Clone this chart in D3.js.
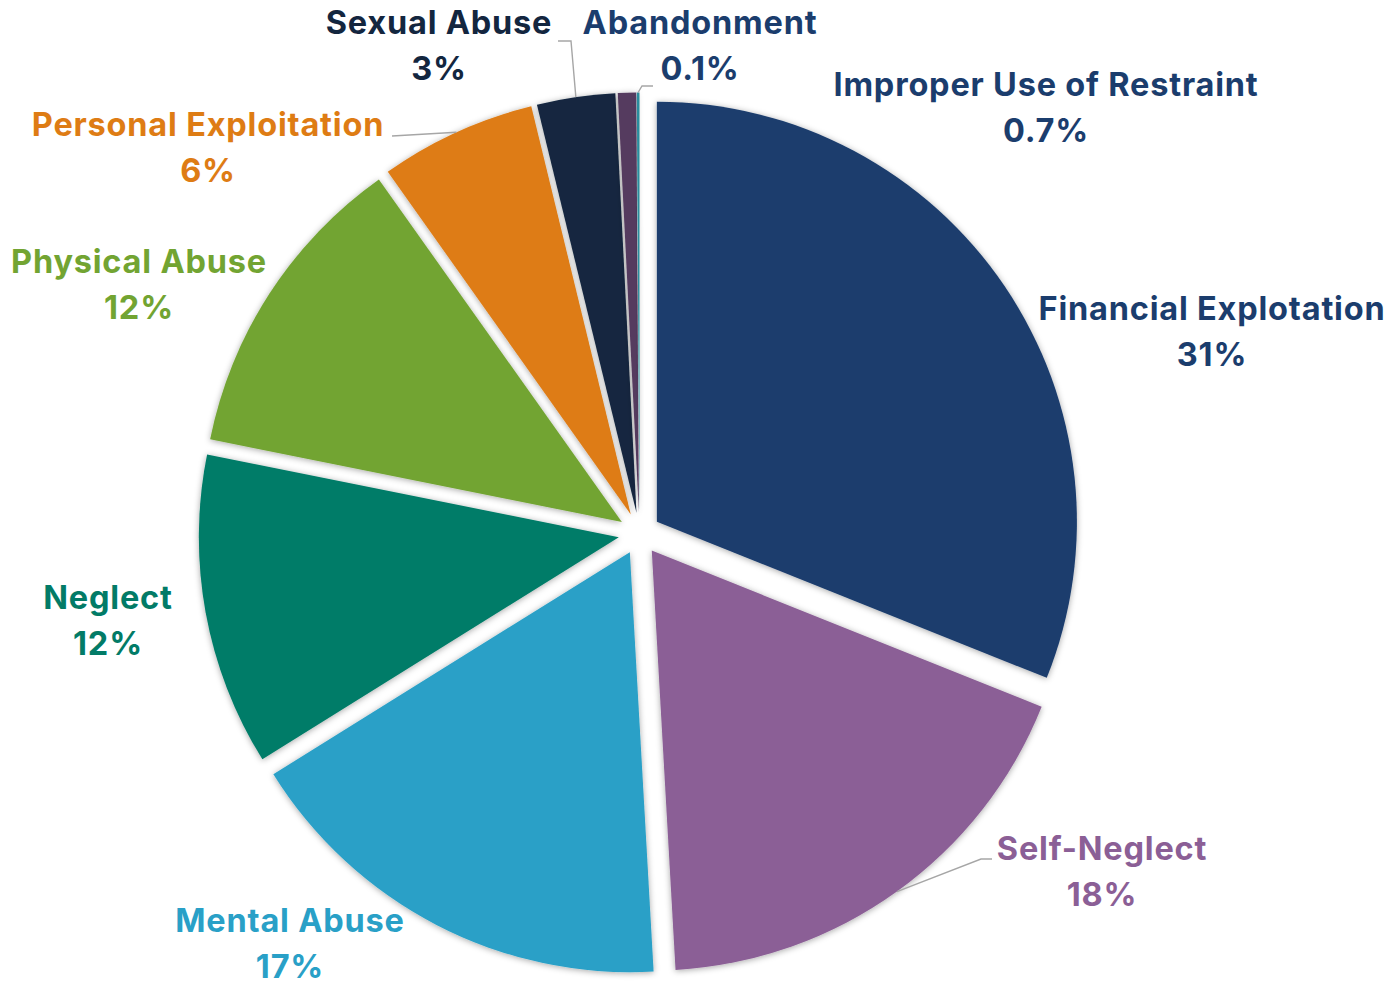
<!DOCTYPE html>
<html>
<head>
<meta charset="utf-8">
<script src="https://cdn.jsdelivr.net/npm/d3@7"></script>
<style>
  html, body { margin: 0; padding: 0; background: #ffffff; }
  svg { display: block; }
  text { font-family: "Inter", "Noto Sans", sans-serif; font-weight: 700; letter-spacing: 0.8px; }
</style>
</head>
<body>
<svg id="chart" width="1396" height="985"></svg>
<script>
// Reported case types and their share of all cases (percent)
const categories = [
  "Financial Explotation", "Self-Neglect", "Mental Abuse", "Neglect",
  "Physical Abuse", "Personal Exploitation", "Sexual Abuse",
  "Improper Use of Restraint", "Abandonment"
];
const shares = [31, 18, 17, 12, 12, 6, 3, 0.7, 0.1];
const shareLabels = ["31%", "18%", "17%", "12%", "12%", "6%", "3%", "0.7%", "0.1%"];

// Slice and label colours
const sliceColors = ["#1b3d6d", "#8b5f96", "#29a0c7", "#027b67", "#72a432", "#de7c14", "#13263f", "#553a5e", "#2b8d9e"];
const labelColors = ["#1b3d6d", "#8b5f96", "#29a0c7", "#027b67", "#72a432", "#de7c14", "#13263f", "#1b3d6d", "#1b3d6d"];

// Label placement: centre x and first-line baseline y
const labelPos = [
  [1212, 320], [1102, 860], [290, 932], [108, 609], [139, 273],
  [208, 136], [439, 34], [1046, 96], [700, 34]
];
// Leader lines: start point beside the label and the knee (null = straight)
const leaders = {
  1: { start: [992, 859], knee: [981, 859] },
  5: { start: [392, 136], knee: null },
  6: { start: [558, 41], knee: [571, 41] },
  8: { start: [653, 86], knee: [642, 86] }
};

const svg = d3.select("#chart");
const cx = 639.5, cy = 533.5, radius = 420, explode = 21;
const fontSize = 32.5, lineGap = 46;

const defs = svg.append("defs");
const f = defs.append("filter").attr("id", "shadow")
  .attr("x", "-20%").attr("y", "-20%").attr("width", "140%").attr("height", "140%");
f.append("feDropShadow").attr("dx", 0).attr("dy", 1).attr("stdDeviation", 3.4)
  .attr("flood-color", "#000").attr("flood-opacity", 0.35);

const data = categories.map((c, i) => ({ name: c, value: shares[i], i }));
const pie = d3.pie().value(d => d.value).sort(null);
const arcs = pie(data);
const arc = d3.arc().innerRadius(0).outerRadius(radius);

const dir = a => [Math.sin(a), -Math.cos(a)];
const mid = d => (d.startAngle + d.endAngle) / 2;

const g = svg.append("g").attr("transform", `translate(${cx},${cy})`);

g.selectAll("path.slice")
  .data(arcs)
  .join("path")
  .attr("class", "slice")
  .attr("filter", "url(#shadow)")
  .attr("fill", d => sliceColors[d.data.i])
  .attr("transform", d => {
    const [ux, uy] = dir(mid(d));
    return `translate(${ux * explode},${uy * explode})`;
  })
  .attr("d", arc);

// Leader lines to the outer edge of each small slice
Object.entries(leaders).forEach(([k, l]) => {
  const d = arcs[+k];
  const [ux, uy] = dir(mid(d));
  const end = [cx + ux * (radius + explode), cy + uy * (radius + explode)];
  const pts = [l.start];
  if (l.knee) pts.push(l.knee);
  pts.push(end);
  svg.append("polyline")
    .attr("points", pts.map(p => p.join(",")).join(" "))
    .attr("fill", "none")
    .attr("stroke", "#a6a6a6")
    .attr("stroke-width", 1.4);
});

// Category name and percentage labels
const labels = svg.append("g").selectAll("g.lab")
  .data(arcs)
  .join("g")
  .attr("class", "lab")
  .attr("fill", d => labelColors[d.data.i]);

labels.append("text")
  .attr("x", d => labelPos[d.data.i][0])
  .attr("y", d => labelPos[d.data.i][1])
  .attr("text-anchor", "middle")
  .attr("font-size", fontSize)
  .text(d => d.data.name);

labels.append("text")
  .attr("x", d => labelPos[d.data.i][0])
  .attr("y", d => labelPos[d.data.i][1] + lineGap)
  .attr("text-anchor", "middle")
  .attr("font-size", fontSize)
  .text(d => shareLabels[d.data.i]);
</script>
</body>
</html>
